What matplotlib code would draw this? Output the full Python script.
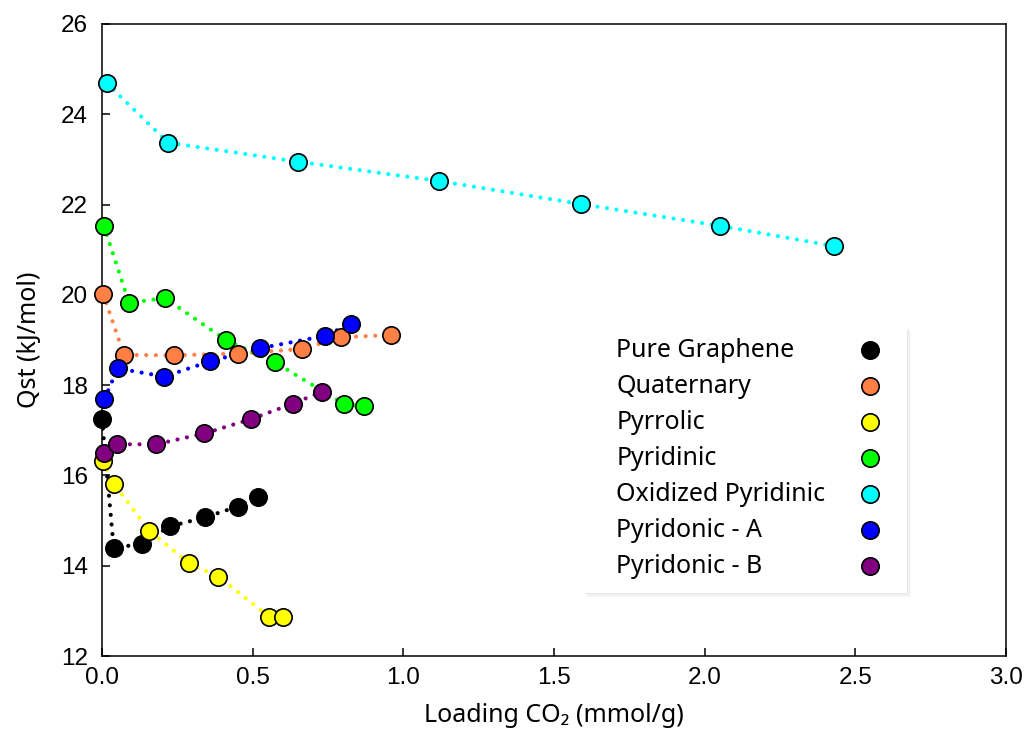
import matplotlib
matplotlib.use("Agg")
import matplotlib.pyplot as plt
from matplotlib.patches import Rectangle

# datos
names = ["Pure Graphene", "Quaternary", "Pyrrolic", "Pyridinic",
         "Oxidized Pyridinic", "Pyridonic - A", "Pyridonic - B"]
colors = ["#000000", "#FF7F45", "#FFFF00", "#00FF00",
          "#00FFFF", "#0000FF", "#800080"]

graphene_x = [0.0, 0.039, 0.134, 0.225, 0.341, 0.45, 0.518]
graphene_y = [17.25, 14.39, 14.49, 14.87, 15.07, 15.31, 15.53]

quaternary_x = [0.004, 0.073, 0.24, 0.452, 0.664, 0.793, 0.958]
quaternary_y = [20.02, 18.67, 18.66, 18.70, 18.80, 19.06, 19.11]

pyrrolic_x = [0.002, 0.04, 0.156, 0.288, 0.386, 0.555, 0.601]
pyrrolic_y = [16.31, 15.81, 14.78, 14.06, 13.76, 12.87, 12.87]

pyridinic_x = [0.006, 0.09, 0.209, 0.413, 0.573, 0.803, 0.869]
pyridinic_y = [21.53, 19.82, 19.93, 18.99, 18.51, 17.58, 17.53]

oxidized_x = [0.015, 0.22, 0.65, 1.12, 1.59, 2.05, 2.43]
oxidized_y = [24.69, 23.37, 22.95, 22.52, 22.01, 21.53, 21.08]

pyridonic_a_x = [0.008, 0.052, 0.207, 0.36, 0.526, 0.739, 0.826]
pyridonic_a_y = [17.69, 18.37, 18.19, 18.53, 18.82, 19.09, 19.36]

pyridonic_b_x = [0.006, 0.05, 0.18, 0.34, 0.496, 0.633, 0.729]
pyridonic_b_y = [16.49, 16.69, 16.69, 16.93, 17.25, 17.59, 17.85]

series = [(graphene_x, graphene_y), (quaternary_x, quaternary_y),
          (pyrrolic_x, pyrrolic_y), (pyridinic_x, pyridinic_y),
          (oxidized_x, oxidized_y), (pyridonic_a_x, pyridonic_a_y),
          (pyridonic_b_x, pyridonic_b_y)]

x_ticks = [0.0, 0.5, 1.0, 1.5, 2.0, 2.5, 3.0]
y_ticks = [12, 14, 16, 18, 20, 22, 24, 26]

label_font = ["Noto Sans", "DejaVu Sans"]
tick_font = "Liberation Sans"

fig = plt.figure(figsize=(10.26, 7.40), dpi=100)
ax = fig.add_axes([0.0994, 0.1135, 0.8811, 0.8541])

# curvas punteadas y marcadores
for (xs, ys), c in zip(series, colors):
    ax.plot(xs, ys, color=c, linestyle=(0, (0.01, 2.3)), linewidth=3.0,
            dash_capstyle="round", zorder=2, clip_on=False)
for (xs, ys), c in zip(series, colors):
    ax.plot(xs, ys, linestyle="none", marker="o", markersize=12.5,
            markerfacecolor=c, markeredgecolor="black", markeredgewidth=1.2,
            zorder=4, clip_on=False)

ax.set_xlim(0, 3)
ax.set_ylim(12, 26)
ax.set_xticks(x_ticks)
ax.set_yticks(y_ticks)
ax.set_xticklabels([f"{v:.1f}" for v in x_ticks], family=tick_font, fontsize=17.5)
ax.set_yticklabels([str(v) for v in y_ticks], family=tick_font, fontsize=17.5)
ax.tick_params(direction="in", length=6, width=1.1, colors="black")
ax.tick_params(axis="y", pad=10)
ax.tick_params(axis="x", pad=8)
for s in ax.spines.values():
    s.set_linewidth(1.1)
    s.set_zorder(3)

ax.set_xlabel("Loading CO\u2082 (mmol/g)", family=label_font, fontsize=18, labelpad=10)
ax.set_ylabel("Qst (kJ/mol)", family=label_font, fontsize=18, labelpad=14)

# leyenda hecha a mano: texto a la izquierda, marcador a la derecha
box = Rectangle((0.532, 0.100), 0.358, 0.422, transform=ax.transAxes,
                facecolor="white", edgecolor="none", zorder=5)
for k, a in [(3, 0.04), (6, 0.03), (9, 0.025)]:
    sh = Rectangle((0.532 + k / 904 * 0.5, 0.100 - k / 632 * 0.5), 0.358, 0.422,
                   transform=ax.transAxes, facecolor="black", alpha=a,
                   edgecolor="none", zorder=4.5)
    ax.add_patch(sh)
ax.add_patch(box)

row0 = 0.484
step = 0.057
for i, (name, c) in enumerate(zip(names, colors)):
    yy = row0 - i * step
    ax.text(0.569, yy, name, transform=ax.transAxes, family=label_font,
            fontsize=18, va="center", ha="left", zorder=6)
    ax.plot([0.85], [yy], transform=ax.transAxes, linestyle="none", marker="o",
            markersize=12.5, markerfacecolor=c, markeredgecolor="black",
            markeredgewidth=1.2, zorder=6, clip_on=False)

fig.savefig("out.png", dpi=100)
